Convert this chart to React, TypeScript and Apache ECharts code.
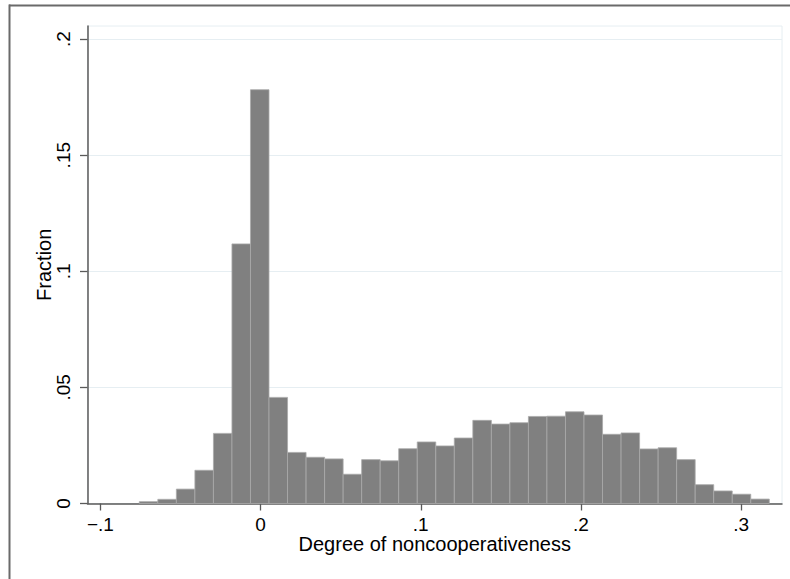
import React, { useEffect, useRef } from "react";
import * as echarts from "echarts";

// Histogram bins: first bin start and common bin width (x units)
const binStart = -0.07574;
const binWidth = 0.01157;
// Fraction per bin (34 bins)
const fractions = [
  0.0008, 0.0018, 0.0062, 0.0143, 0.0302, 0.1118, 0.1782, 0.0457, 0.022, 0.0199,
  0.0192, 0.0126, 0.0189, 0.0184, 0.0236, 0.0265, 0.0248, 0.0282, 0.0358, 0.0342,
  0.0348, 0.0375, 0.0376, 0.0395, 0.0381, 0.0298, 0.0304, 0.0235, 0.024, 0.0189,
  0.0081, 0.0054, 0.004, 0.0019,
];
const xTicks = [-0.1, 0, 0.1, 0.2, 0.3];
const xTickLabels = ["\u2212.1", "0", ".1", ".2", ".3"];
const yTicks = [0, 0.05, 0.1, 0.15, 0.2];
const yTickLabels = ["0", ".05", ".1", ".15", ".2"];
const xTitle = "Degree of noncooperativeness";
const yTitle = "Fraction";

const fmt = (vals: number[], labels: string[]) => (v: number) => {
  for (let i = 0; i < vals.length; i++) {
    if (Math.abs(vals[i] - v) < 1e-9) return labels[i];
  }
  return "";
};

export default function App() {
  const ref = useRef<HTMLDivElement>(null);
  useEffect(() => {
    if (!ref.current) return;
    const chart = echarts.init(ref.current, undefined, { renderer: "svg" });
    const data = fractions.map((f, i) => [
      binStart + i * binWidth,
      binStart + (i + 1) * binWidth,
      f,
    ]);
    const axisColor = "#5a5a5a";
    const font = "'Liberation Sans', Arial, Helvetica, sans-serif";
    chart.setOption({
      animation: false,
      backgroundColor: "#ffffff",
      grid: {
        left: 87.5,
        right: 8,
        top: 26,
        bottom: 75.5,
        show: true,
        borderColor: "#e6eef2",
        borderWidth: 1,
        backgroundColor: "transparent",
      },
      xAxis: {
        type: "value",
        min: -0.10809,
        max: 0.32557,
        name: xTitle,
        nameLocation: "middle",
        nameMoveOverlap: false,
        nameGap: 30.5,
        nameTextStyle: { fontFamily: font, fontSize: 20, color: "#000" },
        axisLine: { show: true, onZero: false, lineStyle: { color: axisColor, width: 1.5 } },
        axisTick: {
          show: true,
          length: 7,
          customValues: xTicks,
          lineStyle: { color: axisColor, width: 1.3 },
        },
        axisLabel: {
          customValues: xTicks,
          formatter: fmt(xTicks, xTickLabels),
          fontFamily: font,
          fontSize: 19,
          color: "#000",
          margin: 11,
        },
        splitLine: { show: false },
      },
      yAxis: {
        type: "value",
        min: 0,
        max: 0.20564,
        interval: 0.05,
        name: yTitle,
        nameLocation: "middle",
        nameMoveOverlap: false,
        nameRotate: 90,
        nameGap: 33.5,
        nameTextStyle: { fontFamily: font, fontSize: 20, color: "#000" },
        axisLine: { show: true, onZero: false, lineStyle: { color: axisColor, width: 1.5 } },
        axisTick: {
          show: true,
          length: 7.5,
          customValues: yTicks,
          lineStyle: { color: axisColor, width: 1.3 },
        },
        axisLabel: {
          customValues: yTicks,
          formatter: fmt(yTicks, yTickLabels),
          rotate: 90,
          fontFamily: font,
          fontSize: 19,
          color: "#000",
          margin: 15,
        },
        splitLine: { show: true, lineStyle: { color: "#e6eef2", width: 1.2 } },
      },
      series: [
        {
          type: "custom",
          data,
          encode: { x: [0, 1], y: 2 },
          renderItem: (params: any, api: any) => {
            const x0 = api.value(0);
            const x1 = api.value(1);
            const y = api.value(2);
            const p0 = api.coord([x0, y]);
            const p1 = api.coord([x1, 0]);
            return {
              type: "rect",
              shape: { x: p0[0], y: p0[1], width: p1[0] - p0[0], height: p1[1] - p0[1] },
              style: { fill: "#808080", stroke: "#a9a9a9", lineWidth: 0.8 },
            };
          },
          z: 3,
        },
      ],
      graphic: [
        {
          type: "line",
          shape: { x1: 9, y1: 5.5, x2: 790, y2: 5.5 },
          style: { stroke: "#6a6a6a", lineWidth: 2 },
          silent: true,
        },
        {
          type: "line",
          shape: { x1: 9.5, y1: 4.5, x2: 9.5, y2: 579 },
          style: { stroke: "#6a6a6a", lineWidth: 2 },
          silent: true,
        },
      ],
    });
    return () => chart.dispose();
  }, []);
  return (
    <div
      ref={ref}
      style={{ position: "fixed", left: 0, top: 0, width: 790, height: 579 }}
    />
  );
}
